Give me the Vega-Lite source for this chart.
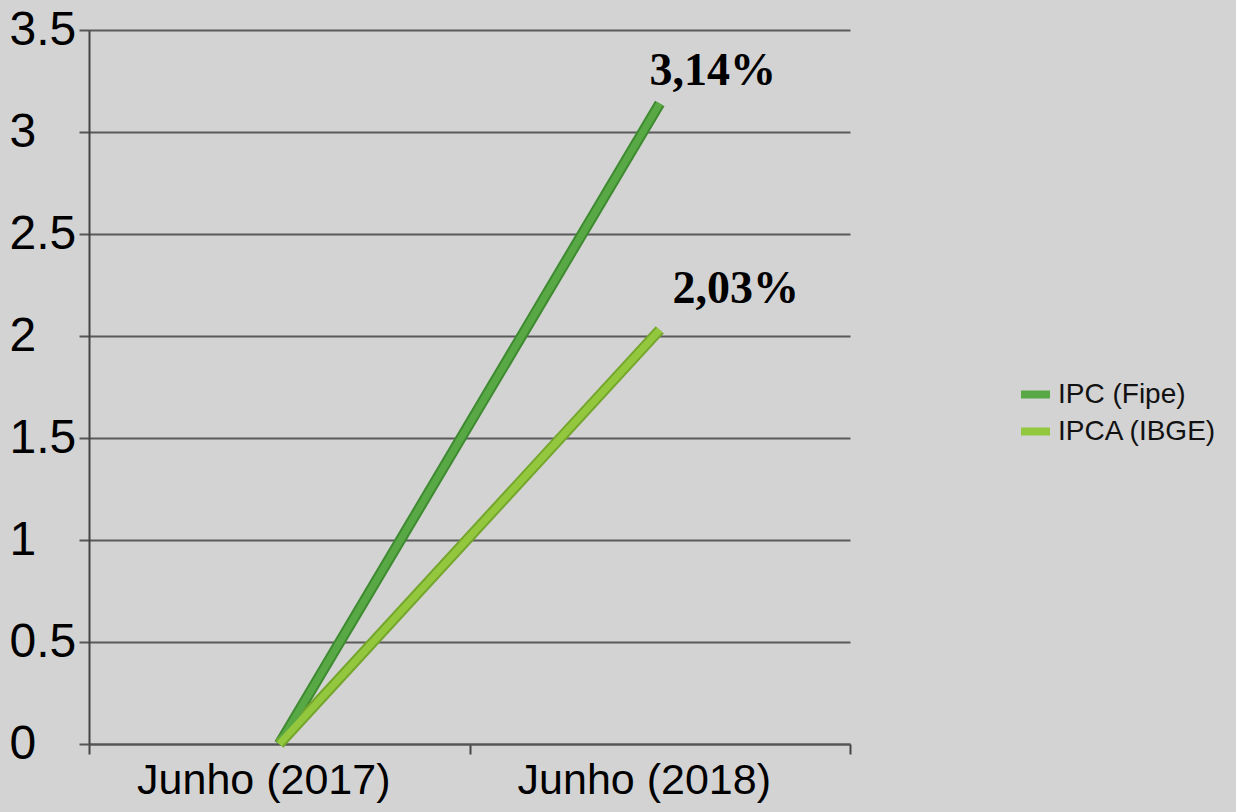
{
  "$schema": "https://vega.github.io/schema/vega-lite/v6.json",
  "autosize": {"type": "none"},
  "width": 761,
  "height": 714,
  "padding": {"left": 89, "top": 30, "right": 386, "bottom": 68},
  "background": "#d3d3d3",
  "config": {
    "view": {"stroke": null},
    "font": "Liberation Sans"
  },
  "data": {
    "values": [
      {"periodo": "Junho (2017)", "serie": "IPC (Fipe)", "valor": 0, "rotulo": "0,00%"},
      {"periodo": "Junho (2018)", "serie": "IPC (Fipe)", "valor": 3.14, "rotulo": "3,14%"},
      {"periodo": "Junho (2017)", "serie": "IPCA (IBGE)", "valor": 0, "rotulo": "0,00%"},
      {"periodo": "Junho (2018)", "serie": "IPCA (IBGE)", "valor": 2.03, "rotulo": "2,03%"}
    ]
  },
  "encoding": {
    "x": {
      "field": "periodo",
      "type": "nominal",
      "scale": {"type": "band", "paddingInner": 0, "paddingOuter": 0},
      "axis": {
        "title": null,
        "labelAngle": 0,
        "labelFont": "Liberation Sans",
        "labelFontSize": 43,
        "labelColor": "#000000",
        "labelPadding": 5,
        "labelOffset": -16,
        "labelLimit": 400,
        "tickBand": "extent",
        "tickSize": 10,
        "tickColor": "#444444",
        "tickWidth": 2,
        "domainColor": "#555555",
        "domainWidth": 2,
        "grid": false
      }
    },
    "y": {
      "field": "valor",
      "type": "quantitative",
      "scale": {"domain": [0, 3.5], "nice": false},
      "axis": {
        "title": null,
        "values": [0, 0.5, 1, 1.5, 2, 2.5, 3, 3.5],
        "format": "~g",
        "labelFont": "Liberation Sans",
        "labelFontSize": 48,
        "labelColor": "#000000",
        "labelAlign": "left",
        "labelBaseline": "middle",
        "labelPadding": 70,
        "tickSize": 10,
        "tickColor": "#555555",
        "tickWidth": 2,
        "domainColor": "#444444",
        "domainWidth": 2,
        "grid": true,
        "gridColor": "#5a5a5a",
        "gridWidth": 2
      }
    }
  },
  "layer": [
    {
      "transform": [{"filter": "datum.serie == 'IPC (Fipe)'"}],
      "mark": {"type": "line", "strokeWidth": 11, "strokeCap": "butt", "color": "#3e8a30"},
      "encoding": {}
    },
    {
      "transform": [{"filter": "datum.serie == 'IPCA (IBGE)'"}],
      "mark": {"type": "line", "strokeWidth": 11, "strokeCap": "butt", "color": "#74a52c"},
      "encoding": {}
    },
    {
      "mark": {"type": "line", "strokeWidth": 7, "strokeCap": "butt"},
      "encoding": {
        "color": {
          "field": "serie",
          "type": "nominal",
          "scale": {"domain": ["IPC (Fipe)", "IPCA (IBGE)"], "range": ["#58a845", "#93c83e"]},
          "legend": {
            "title": null,
            "orient": "none",
            "legendX": 928,
            "legendY": 346,
            "padding": 0,
            "symbolType": "stroke",
            "symbolSize": 841,
            "symbolStrokeWidth": 8,
            "labelFont": "Liberation Sans",
            "labelFontSize": 28,
            "labelColor": "#111111",
            "labelOffset": 4,
            "rowPadding": 2,
            "labelLimit": 300
          }
        }
      }
    },
    {
      "transform": [{"filter": "datum.periodo == 'Junho (2018)' && datum.serie == 'IPC (Fipe)'"}],
      "mark": {"type": "text", "font": "Liberation Serif", "fontWeight": "bold", "fontSize": 46, "color": "#000000", "align": "center", "baseline": "alphabetic", "dx": 53, "dy": -18},
      "encoding": {"text": {"field": "rotulo"}}
    },
    {
      "transform": [{"filter": "datum.periodo == 'Junho (2018)' && datum.serie == 'IPCA (IBGE)'"}],
      "mark": {"type": "text", "font": "Liberation Serif", "fontWeight": "bold", "fontSize": 46, "color": "#000000", "align": "center", "baseline": "alphabetic", "dx": 76, "dy": -27},
      "encoding": {"text": {"field": "rotulo"}}
    }
  ]
}
